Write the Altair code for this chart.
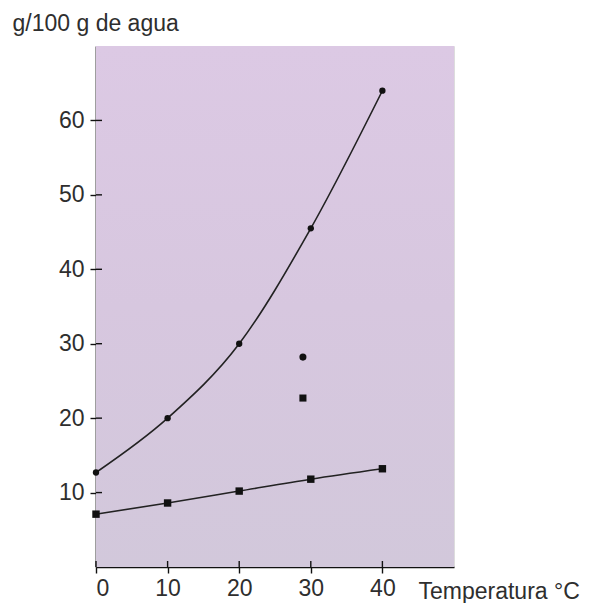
import altair as alt
import pandas as pd

temps = [0, 10, 20, 30, 40]
upper = [12.7, 20.0, 30.0, 45.5, 64.0]
lower = [7.1, 8.6, 10.2, 11.8, 13.2]
extra_x = [28.9, 28.9]
extra_y = [28.2, 22.7]
extra_shape = ["circle", "square"]
x_ticks = [0, 10, 20, 30, 40]
y_ticks = [10, 20, 30, 40, 50, 60]

W, H = 358, 521

df_up = pd.DataFrame({"t": temps, "v": upper})
df_lo = pd.DataFrame({"t": temps, "v": lower})
df_ex = pd.DataFrame({"t": extra_x, "v": extra_y, "s": extra_shape})
df_xt = pd.DataFrame({"t": x_ticks})
df_yt = pd.DataFrame({"v": y_ticks})

xs = alt.Scale(domain=[0, 50], nice=False, zero=False)
ys = alt.Scale(domain=[0, 70], nice=False, zero=False)

font = "Liberation Sans"
txt = "#2e2e2e"
fs = 23

x_enc = alt.X("t:Q", scale=xs, axis=alt.Axis(
    values=x_ticks, title="Temperatura °C", titleAngle=0, titleAlign="left",
    titleBaseline="middle", titleX=322, titleY=24, titleFont=font, titleFontSize=fs,
    titleFontWeight="normal", titleColor=txt,
    labelFont=font, labelFontSize=fs, labelColor=txt, labelPadding=4,
    domainColor="#111", domainWidth=1.6, tickColor="#111", tickSize=6, tickWidth=1.4,
    grid=False))
y_enc = alt.Y("v:Q", scale=ys, axis=alt.Axis(
    values=y_ticks, title="g/100 g de agua", titleAngle=0, titleAlign="left",
    titleBaseline="alphabetic", titleX=-84, titleY=-16, titleFont=font, titleFontSize=fs,
    titleFontWeight="normal", titleColor=txt,
    labelFont=font, labelFontSize=fs, labelColor=txt, labelPadding=6,
    domainColor="#111", domainWidth=1.8, tickColor="#111", tickSize=6, tickWidth=1.4,
    grid=False))

bg = alt.Chart(df_xt).mark_rect(
    color=alt.LinearGradient(gradient="linear", x1=0, y1=0, x2=0, y2=1,
                             stops=[alt.GradientStop(offset=0, color="#dcc9e4"),
                                    alt.GradientStop(offset=0.5, color="#d7c7df"),
                                    alt.GradientStop(offset=1, color="#d2c8db")])
).encode(x=alt.value(0), x2=alt.value(W), y=alt.value(0), y2=alt.value(H))

line_up = alt.Chart(df_up).mark_line(color="#222", strokeWidth=1.6, interpolate="monotone").encode(x=x_enc, y=y_enc)
pts_up = alt.Chart(df_up).mark_point(shape="circle", filled=True, color="#111", size=40, opacity=1).encode(x="t:Q", y="v:Q")
line_lo = alt.Chart(df_lo).mark_line(color="#222", strokeWidth=1.6, interpolate="monotone").encode(x="t:Q", y="v:Q")
pts_lo = alt.Chart(df_lo).mark_point(shape="square", filled=True, color="#111", size=55, opacity=1).encode(x="t:Q", y="v:Q")
pts_ex = alt.Chart(df_ex).mark_point(filled=True, color="#111", size=50, opacity=1).encode(
    x="t:Q", y="v:Q",
    shape=alt.Shape("s:N", scale=alt.Scale(domain=["circle", "square"], range=["circle", "square"]), legend=None))

ytick_in = alt.Chart(df_yt).mark_rule(color="#111", strokeWidth=1.4).encode(
    y="v:Q", x=alt.value(0), x2=alt.value(6))
xtick_in = alt.Chart(df_xt).mark_rule(color="#111", strokeWidth=1.4).encode(
    x="t:Q", y=alt.value(H), y2=alt.value(H - 6))

chart = alt.layer(bg, line_up, line_lo, pts_up, pts_lo, pts_ex, ytick_in, xtick_in).properties(
    width=W, height=H,
    padding={"left": 4, "top": 4, "right": 0, "bottom": 0},
).configure_view(stroke=None).configure(background="white")

chart.save("out.html", embed_options={"renderer": "svg", "actions": False})
